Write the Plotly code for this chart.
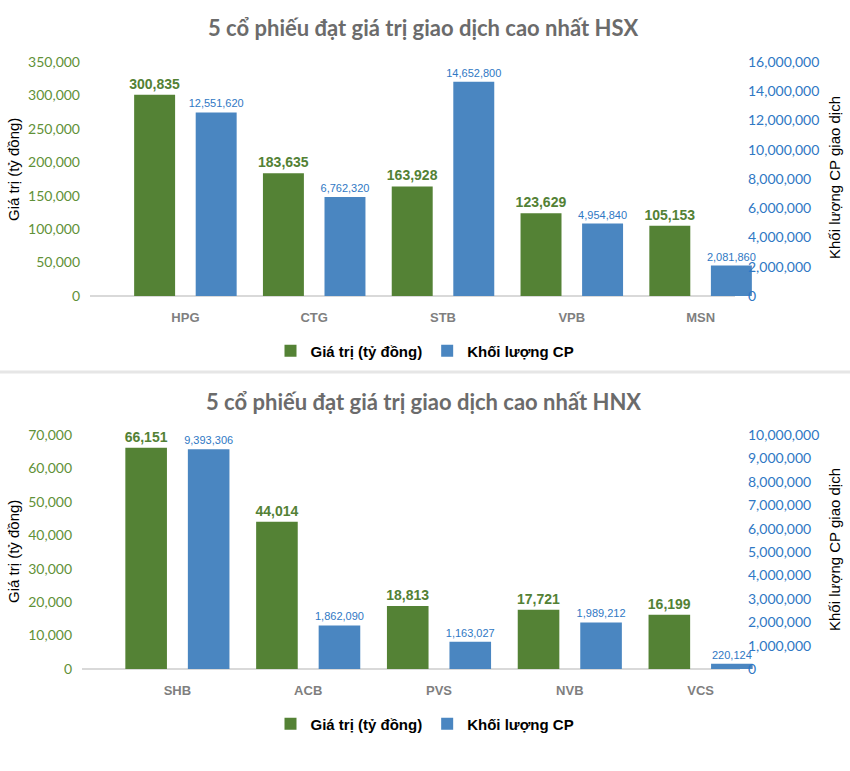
import plotly.graph_objects as go

# ---------------- data ----------------
hsx_codes = ["HPG", "CTG", "STB", "VPB", "MSN"]
hsx_value = [300835, 183635, 163928, 123629, 105153]          # Giá trị (tỷ đồng)
hsx_volume = [12551620, 6762320, 14652800, 4954840, 2081860]  # Khối lượng CP

hnx_codes = ["SHB", "ACB", "PVS", "NVB", "VCS"]
hnx_value = [66151, 44014, 18813, 17721, 16199]
hnx_volume = [9393306, 1862090, 1163027, 1989212, 220124]

title_hsx = "5 cổ phiếu đạt giá trị giao dịch cao nhất HSX"
title_hnx = "5 cổ phiếu đạt giá trị giao dịch cao nhất HNX"
name_value = "Giá trị (tỷ đồng)"
name_volume = "Khối lượng CP"
left_title = "Giá trị (tỷ đồng)"
right_title = "Khối lượng CP giao dịch"

# ---------------- style ----------------
W, H = 850, 771
GREEN = "#548235"
BLUE = "#4a86c1"
GREEN_TXT = "#538135"
GREEN_TICK = "#5f9138"
BLUE_TXT = "#2f78c4"
GRAY_TITLE = "#6b6b6b"
GRAY_CAT = "#7f7f7f"
NARROW = "Liberation Sans Narrow, Arial Narrow, Liberation Sans, Arial"
TICKFONT = "Lato, Open Sans, sans-serif"


def px(x):
    return x / W


def py(y):
    return 1 - y / H


BW = 0.318
OFF_G = -0.398
OFF_B = 0.080

fig = go.Figure()


def add_pair(codes, vals, vols, xa, ya_l, ya_r, leg):
    fig.add_trace(go.Bar(
        x=codes, y=vals, name=name_value, xaxis=xa, yaxis=ya_l,
        marker=dict(color=GREEN, line=dict(width=10, color="rgba(0,0,0,0)")),
        width=BW, offset=OFF_G,
        texttemplate="%{y:,}", textposition="outside", cliponaxis=False,
        constraintext="none",
        textfont=dict(family=NARROW, size=14, color=GREEN_TXT, weight="bold"),
        legend=leg, hoverinfo="x+y",
    ))
    fig.add_trace(go.Bar(
        x=codes, y=vols, name=name_volume, xaxis=xa, yaxis=ya_r,
        marker=dict(color=BLUE, line=dict(width=4, color="rgba(0,0,0,0)")),
        width=BW, offset=OFF_B,
        texttemplate="%{y:,}", textposition="outside", cliponaxis=False,
        constraintext="none",
        textfont=dict(family=NARROW, size=11, color=BLUE_TXT),
        legend=leg, hoverinfo="x+y",
    ))


add_pair(hsx_codes, hsx_value, hsx_volume, "x", "y", "y2", "legend")
add_pair(hnx_codes, hnx_value, hnx_volume, "x2", "y3", "y4", "legend2")

xcommon = dict(showgrid=False, zeroline=False, showline=False,
               ticks="outside", ticklen=9, tickcolor="rgba(0,0,0,0)",
               tickfont=dict(family="Liberation Sans, Arial", size=13, color=GRAY_CAT, weight="bold"),
               fixedrange=True)
yl_common = dict(showgrid=False, zeroline=False, showline=False, ticks="",
                 tickformat=",", anchor="free", side="left",
                 tickfont=dict(family=TICKFONT, size=14, color=GREEN_TICK))
yr_common = dict(showgrid=False, zeroline=False, showline=False, ticks="",
                 tickformat=",", anchor="free", side="right",
                 tickfont=dict(family=TICKFONT, size=14, color=BLUE_TXT))

top_dom = [py(296), py(62)]
bot_dom = [py(669), py(435)]


def ann(text, x, y, size, color, family, angle=0, weight="normal"):
    return dict(text=text, xref="paper", yref="paper", x=px(x), y=py(y), showarrow=False,
                xanchor="center", yanchor="middle", textangle=angle,
                font=dict(family=family, size=size, color=color, weight=weight))


TFONT = "Lato, Open Sans, sans-serif"
AFONT = "Liberation Sans, Arial"

fig.update_layout(
    width=W, height=H,
    margin=dict(l=0, r=0, t=0, b=0, autoexpand=False),
    paper_bgcolor="white", plot_bgcolor="rgba(0,0,0,0)",
    barmode="overlay",
    showlegend=True,
    xaxis=dict(domain=[px(121), px(765)], anchor="y", **xcommon),
    yaxis=dict(domain=top_dom, range=[0, 350000], dtick=50000, position=px(80), **yl_common),
    yaxis2=dict(overlaying="y", range=[0, 16000000], dtick=2000000, position=px(747), **yr_common),
    xaxis2=dict(domain=[px(112), px(766)], anchor="y3", **xcommon),
    yaxis3=dict(domain=bot_dom, range=[0, 70000], dtick=10000, position=px(72), **yl_common),
    yaxis4=dict(overlaying="y3", range=[0, 10000000], dtick=1000000, position=px(747), **yr_common),
    legend=dict(orientation="h", x=0.5, xanchor="center", y=py(351), yanchor="middle",
                font=dict(family=AFONT, size=15, color="black", weight="bold"),
                itemwidth=30, bgcolor="rgba(0,0,0,0)"),
    legend2=dict(orientation="h", x=0.5, xanchor="center", y=py(724), yanchor="middle",
                 font=dict(family=AFONT, size=15, color="black", weight="bold"),
                 itemwidth=30, bgcolor="rgba(0,0,0,0)"),
    shapes=[
        dict(type="line", xref="paper", yref="paper", x0=px(90), x1=px(735), y0=py(296), y1=py(296),
             line=dict(color="#d9d9d9", width=2), layer="below"),
        dict(type="line", xref="paper", yref="paper", x0=px(82), x1=px(740), y0=py(669), y1=py(669),
             line=dict(color="#d9d9d9", width=2), layer="below"),
        dict(type="line", xref="paper", yref="paper", x0=0, x1=1, y0=py(372), y1=py(372),
             line=dict(color="#e6e6e6", width=3)),
    ],
    annotations=[
        ann(title_hsx, 423, 28, 22, GRAY_TITLE, TFONT, weight="bold"),
        ann(title_hnx, 423, 401, 22, GRAY_TITLE, TFONT, weight="bold"),
        ann(left_title, 13, 170, 15, "black", AFONT, angle=-90),
        ann(right_title, 834, 178, 15, "black", AFONT, angle=-90),
        ann(left_title, 13, 552, 15, "black", AFONT, angle=-90),
        ann(right_title, 834, 550, 15, "black", AFONT, angle=-90),
    ],
)

fig.write_html("out.html", post_script="document.body.style.margin='0';",
               config={"displayModeBar": False})
